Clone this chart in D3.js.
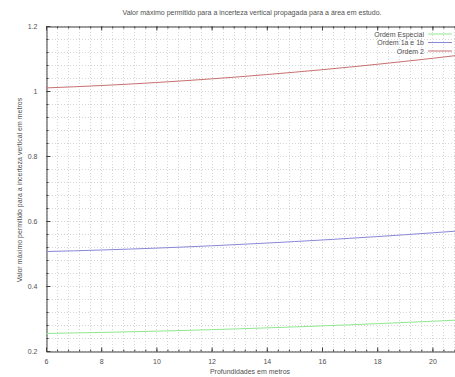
<!DOCTYPE html>
<html>
<head>
<meta charset="utf-8">
<script src="https://cdn.jsdelivr.net/npm/d3@7"></script>
<style>
  body { margin: 0; background: #fff; }
  svg { display: block; font-family: "Liberation Sans", Arial, sans-serif; }
  .grid line { stroke: #d6d6d6; stroke-dasharray: 1,2; }
  .lbl { font-size: 7px; fill: #505050; }
</style>
</head>
<body>
<div id="chart"></div>
<script>
// depths (m) and values
const depths = [6, 7, 8, 9, 10, 11, 12, 13, 14, 15, 16, 17, 18, 19, 20, 21];
const ordemEspecial = [0.254, 0.2555, 0.2571, 0.259, 0.261, 0.2633, 0.2657, 0.2683, 0.2712, 0.2741, 0.2773, 0.2806, 0.2841, 0.2878, 0.2915, 0.2955];
const ordem1 = [0.5061, 0.5082, 0.5107, 0.5135, 0.5166, 0.52, 0.5238, 0.5278, 0.5321, 0.5367, 0.5415, 0.5467, 0.552, 0.5577, 0.5636, 0.5697];
const ordem2 = [1.0095, 1.0129, 1.0168, 1.0212, 1.0261, 1.0315, 1.0374, 1.0437, 1.0506, 1.0578, 1.0655, 1.0736, 1.0822, 1.0912, 1.1005, 1.1105];
const seriesNames = ["Ordem Especial", "Ordem 1a e 1b", "Ordem 2"];
const seriesColors = ["#90e890", "#8888d8", "#c87070"];
const xTicks = [6, 8, 10, 12, 14, 16, 18, 20];
const yTicks = [0.2, 0.4, 0.6, 0.8, 1, 1.2];

const width = 455;
const height = 377;
const margin = { top: 26, bottom: 26, left: 46, right: -5 };

const svg = d3.select("#chart").append("svg")
    .attr("width", width)
    .attr("height", height);

const x = d3.scaleLinear().domain([6, 21]).range([margin.left, width - margin.right]);
const y = d3.scaleLinear().domain([0.2, 1.2]).range([height - margin.bottom, margin.top]);

// minor grid every 0.4 on x, 0.04 on y
const xMinor = d3.range(6, 21.01, 0.4);
const yMinor = d3.range(0.2, 1.2001, 0.04);

svg.append("g").attr("class", "grid")
  .selectAll("line").data(xMinor).enter().append("line")
    .attr("x1", d => Math.round(x(d)) + 0.5).attr("x2", d => Math.round(x(d)) + 0.5)
    .attr("y1", y(1.2)).attr("y2", y(0.2));

svg.append("g").attr("class", "grid")
  .selectAll("line").data(yMinor).enter().append("line")
    .attr("y1", d => Math.round(y(d)) + 0.5).attr("y2", d => Math.round(y(d)) + 0.5)
    .attr("x1", x(6)).attr("x2", x(21));

// axes (bottom/left with labels, top mirrored ticks)
const axisColor = "#404040";
function styleAxis(g) {
  g.selectAll("path, line").attr("stroke", axisColor);
  g.selectAll("text").attr("class", "lbl");
}

svg.append("g")
  .attr("transform", "translate(0," + (y(0.2) + 0.5) + ")")
  .call(d3.axisBottom(x).tickValues(xTicks).tickFormat(d3.format("d")).tickSize(-4).tickPadding(8).tickSizeOuter(0))
  .call(styleAxis);
svg.append("g")
  .attr("transform", "translate(0," + (y(0.2) + 0.5) + ")")
  .call(d3.axisBottom(x).tickValues(xMinor).tickFormat("").tickSize(-2).tickSizeOuter(0))
  .call(g => g.select(".domain").remove())
  .call(styleAxis);

svg.append("g")
  .attr("transform", "translate(0," + (y(1.2) + 0.5) + ")")
  .call(d3.axisTop(x).tickValues(xTicks).tickFormat("").tickSize(-4).tickSizeOuter(0))
  .call(styleAxis);
svg.append("g")
  .attr("transform", "translate(0," + (y(1.2) + 0.5) + ")")
  .call(d3.axisTop(x).tickValues(xMinor).tickFormat("").tickSize(-2).tickSizeOuter(0))
  .call(g => g.select(".domain").remove())
  .call(styleAxis);

svg.append("g")
  .attr("transform", "translate(" + (x(6) + 0.5) + ",0)")
  .call(d3.axisLeft(y).tickValues(yTicks).tickFormat(d3.format("")).tickSize(-4).tickPadding(9).tickSizeOuter(0))
  .call(styleAxis);
svg.append("g")
  .attr("transform", "translate(" + (x(6) + 0.5) + ",0)")
  .call(d3.axisLeft(y).tickValues(yMinor).tickFormat("").tickSize(-2).tickSizeOuter(0))
  .call(g => g.select(".domain").remove())
  .call(styleAxis);

// series lines
const data = [ordemEspecial, ordem1, ordem2];
const line = d3.line()
  .x((d, i) => x(depths[i]))
  .y(d => y(d));

svg.append("g").selectAll("path")
  .data(data).enter().append("path")
    .attr("fill", "none")
    .attr("stroke", (d, i) => seriesColors[i])
    .attr("stroke-width", 1)
    .attr("d", line);

// legend
const legend = svg.append("g").selectAll("g")
  .data(seriesNames).enter().append("g")
    .attr("transform", (d, i) => "translate(0," + (34 + i * 8.5) + ")");
legend.append("text")
  .attr("class", "lbl")
  .attr("x", 424).attr("y", 2.5)
  .attr("text-anchor", "end")
  .text(d => d);
legend.append("line")
  .attr("x1", 428).attr("x2", 452)
  .attr("stroke", (d, i) => seriesColors[i]);

// titles
svg.append("text").attr("class", "lbl")
  .attr("x", 252).attr("y", 15)
  .attr("text-anchor", "middle")
  .text("Valor máximo permitido para a incerteza vertical propagada para a área em estudo.");

svg.append("text").attr("class", "lbl")
  .attr("x", 250).attr("y", 374)
  .attr("text-anchor", "middle")
  .text("Profundidades em metros");

svg.append("text").attr("class", "lbl")
  .attr("transform", "translate(22," + 190 + ") rotate(-90)")
  .attr("text-anchor", "middle")
  .text("Valor máximo permitido para a incerteza vertical em metros");
</script>
</body>
</html>
